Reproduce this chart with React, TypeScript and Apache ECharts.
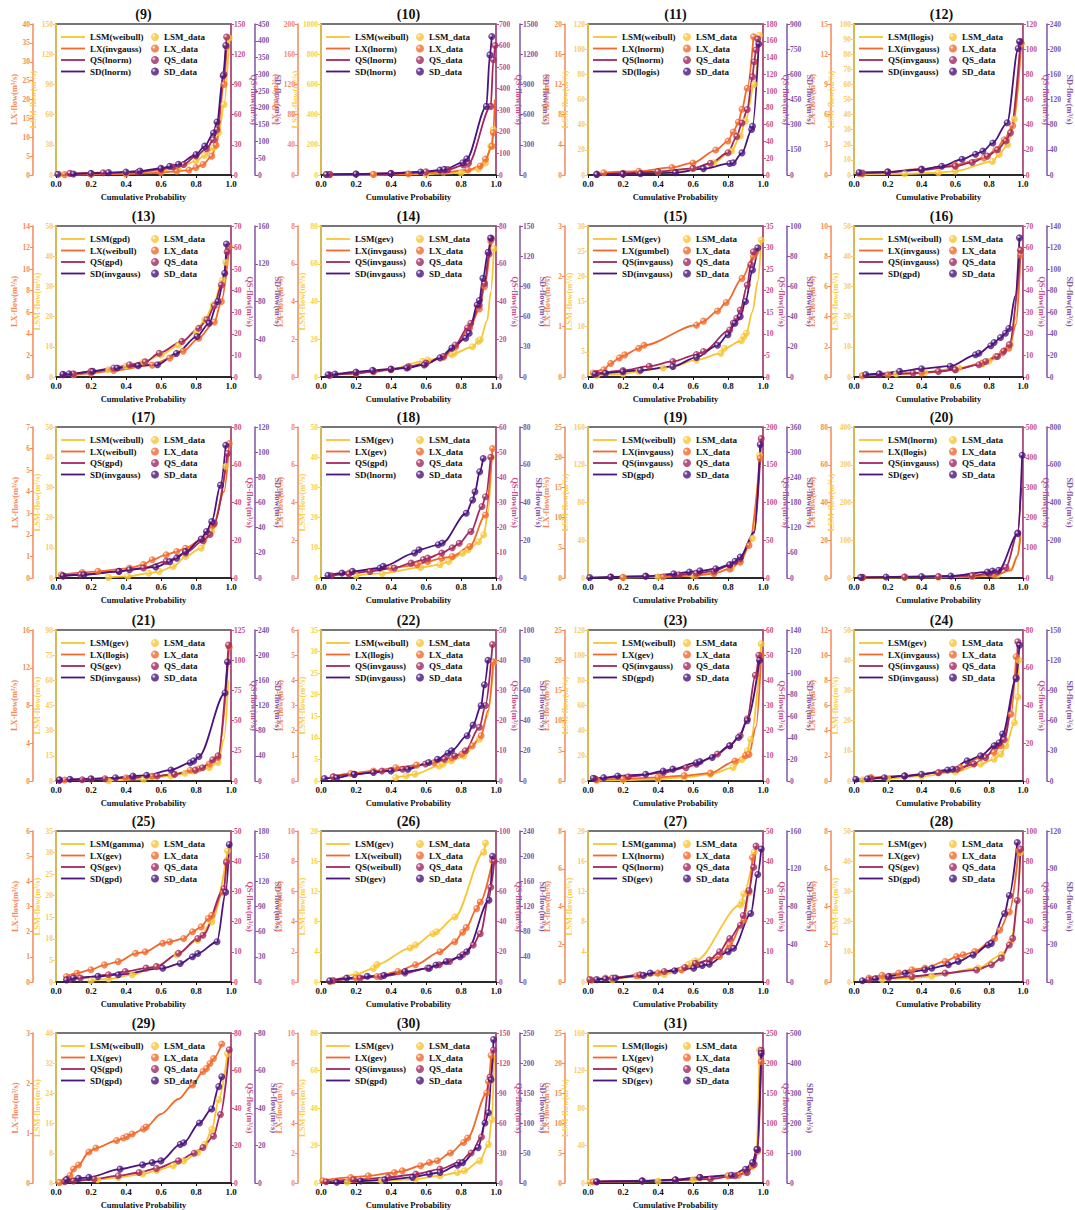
import React, { useEffect, useRef } from "react";
import * as echarts from "echarts";

// ---------------- data ----------------
const PANELS = ["(9)", "(10)", "(11)", "(12)", "(13)", "(14)", "(15)", "(16)", "(17)", "(18)", "(19)", "(20)", "(21)", "(22)", "(23)", "(24)", "(25)", "(26)", "(27)", "(28)", "(29)", "(30)", "(31)"];

// fitted distributions, order: LSM, LX, QS, SD
const FITS = [
  ["weibull", "invgauss", "lnorm", "lnorm"],
  ["weibull", "lnorm", "lnorm", "lnorm"],
  ["weibull", "lnorm", "lnorm", "llogis"],
  ["llogis", "invgauss", "invgauss", "invgauss"],
  ["gpd", "weibull", "gpd", "invgauss"],
  ["gev", "invgauss", "invgauss", "invgauss"],
  ["gev", "gumbel", "invgauss", "invgauss"],
  ["weibull", "invgauss", "invgauss", "gpd"],
  ["weibull", "weibull", "gpd", "invgauss"],
  ["gev", "gev", "gpd", "lnorm"],
  ["weibull", "invgauss", "invgauss", "gpd"],
  ["lnorm", "llogis", "invgauss", "gev"],
  ["gev", "llogis", "gev", "invgauss"],
  ["weibull", "llogis", "invgauss", "invgauss"],
  ["weibull", "gev", "invgauss", "gpd"],
  ["gev", "invgauss", "invgauss", "invgauss"],
  ["gamma", "gev", "gev", "gpd"],
  ["gev", "weibull", "weibull", "gev"],
  ["gamma", "lnorm", "lnorm", "gev"],
  ["gev", "gev", "gev", "gpd"],
  ["weibull", "gev", "gpd", "gpd"],
  ["gev", "gev", "invgauss", "gpd"],
  ["llogis", "gev", "gev", "gev"],
];

// axis [max, interval]
const LX_AXIS = [[40, 5], [200, 40], [20, 4], [15, 3], [14, 2], [8, 2], [3, 1], [10, 2], [7, 1], [8, 2], [25, 5], [80, 20], [16, 4], [6, 1], [25, 5], [12, 2], [6, 1], [10, 2], [8, 2], [8, 2], [3, 1], [10, 2], [25, 5]];
const LSM_AXIS = [[150, 30], [1000, 200], [120, 20], [100, 10], [50, 10], [80, 20], [30, 5], [50, 10], [50, 10], [50, 10], [160, 40], [400, 100], [90, 15], [35, 5], [120, 20], [50, 10], [35, 5], [20, 4], [20, 4], [50, 10], [40, 8], [80, 20], [160, 40]];
const QS_AXIS = [[150, 30], [700, 100], [180, 20], [120, 20], [70, 10], [80, 20], [35, 5], [70, 10], [80, 20], [60, 10], [200, 50], [500, 100], [125, 25], [50, 10], [60, 10], [80, 20], [50, 10], [100, 20], [50, 10], [100, 20], [80, 20], [150, 30], [250, 50]];
const SD_AXIS = [[450, 50], [1500, 300], [900, 150], [240, 40], [160, 40], [150, 30], [100, 20], [140, 20], [120, 20], [80, 20], [360, 60], [800, 200], [240, 40], [100, 20], [140, 20], [150, 30], [180, 30], [240, 40], [160, 40], [120, 30], [80, 20], [250, 50], [500, 100]];

// observed points [cumulative probability, flow]
const LSM_PTS = [
  [[0.02, 0.8], [0.2, 1], [0.4, 2], [0.6, 4], [0.7, 7], [0.8, 14], [0.85, 19.5], [0.9, 27], [0.93, 42], [0.96, 70], [0.99, 136]],
  [[0.03, 3], [0.3, 3], [0.6, 6], [0.8, 15], [0.9, 40], [0.94, 80], [0.97, 191], [0.985, 301]],
  [[0.05, 0.5], [0.2, 1], [0.4, 2.5], [0.6, 5], [0.72, 9.8], [0.82, 19], [0.87, 31], [0.9, 43], [0.95, 72], [0.98, 111]],
  [[0.05, 0.5], [0.3, 0.8], [0.5, 1.5], [0.6, 2.6], [0.82, 9], [0.86, 13.6], [0.91, 20], [0.95, 37], [0.99, 87]],
  [[0.1, 0.8], [0.2, 1.5], [0.3, 2.4], [0.4, 3.6], [0.5, 5], [0.6, 7.3], [0.7, 10.5], [0.8, 15], [0.85, 19], [0.9, 24], [0.95, 32], [0.97, 38]],
  [[0.05, 1], [0.2, 2], [0.4, 4], [0.58, 8.3], [0.61, 9], [0.748, 11.8], [0.764, 12.7], [0.866, 16], [0.9, 19], [0.91, 19.7], [0.988, 68]],
  [[0.05, 0.3], [0.2, 0.6], [0.29, 1.1], [0.43, 1.8], [0.485, 2.1], [0.62, 3.4], [0.76, 4.7], [0.78, 5.7], [0.877, 7.2], [0.89, 8], [0.905, 8.7], [0.99, 27.2]],
  [[0.05, 0.5], [0.25, 1], [0.42, 1.5], [0.62, 3], [0.76, 4.3], [0.8, 5.2], [0.927, 10.7], [0.986, 42]],
  [[0.3, 0.2], [0.41, 0.55], [0.53, 1.6], [0.59, 2.2], [0.67, 3.8], [0.74, 7.1], [0.83, 9.9], [0.89, 15.4], [0.97, 37]],
  [[0.2, 0.8], [0.35, 1.5], [0.57, 3.5], [0.68, 4.4], [0.73, 5.5], [0.81, 8.2], [0.84, 9.3], [0.9, 12], [0.93, 14.3], [0.975, 40]],
  [[0.2, 0.6], [0.4, 1.2], [0.6, 2.8], [0.72, 5.3], [0.82, 10], [0.87, 17], [0.94, 42], [0.98, 130]],
  [[0.05, 1], [0.3, 1.5], [0.5, 2], [0.7, 4], [0.85, 8]],
  [[0.3, 0.2], [0.5, 1], [0.657, 3], [0.737, 4.6], [0.787, 6], [0.876, 8], [0.926, 11]],
  [[0.427, 0.8], [0.487, 1.2], [0.537, 1.6], [0.676, 3.5], [0.696, 3.9], [0.746, 4.7], [0.815, 5.8], [0.905, 9.7], [0.988, 27.6]],
  [[0.05, 0.3], [0.2, 0.8], [0.4, 1.6], [0.55, 3], [0.7, 5.3], [0.83, 10.7], [0.88, 17], [0.91, 24], [0.93, 33], [0.99, 109]],
  [[0.05, 0.4], [0.2, 0.8], [0.4, 1.6], [0.6, 3], [0.75, 5.6], [0.83, 7.2], [0.87, 8.9], [0.9, 11.7], [0.95, 19.4], [0.97, 27.8], [0.976, 40]],
  [[0.2, 0.3], [0.3, 0.7], [0.436, 1.7], [0.574, 3.6], [0.69, 6.3], [0.81, 9.7], [0.89, 13.9], [0.98, 30.4]],
  [[0.06, 0.1], [0.2, 1], [0.3, 1.8], [0.32, 2.3], [0.51, 4.5], [0.54, 4.9], [0.64, 6.4], [0.66, 6.65], [0.765, 8.6], [0.93, 17.2], [0.94, 18.4]],
  [[0.14, 0.3], [0.297, 0.75], [0.436, 1], [0.535, 1.6], [0.574, 2.3], [0.594, 2.5], [0.614, 2.8], [0.871, 10.2], [0.88, 10.6], [0.89, 11.7], [0.95, 17.2]],
  [[0.167, 0.8], [0.343, 1.3], [0.46, 1.9], [0.735, 4.6], [0.873, 9], [0.93, 13.3], [0.986, 42.9]],
  [[0.02, 0.2], [0.238, 0.9], [0.356, 1.5], [0.495, 2.4], [0.574, 3.3], [0.67, 4.6], [0.73, 5.9], [0.81, 8.1], [0.85, 10.3], [0.89, 14.3], [0.93, 22.2], [0.98, 34.5]],
  [[0.15, 0.4], [0.345, 1.2], [0.54, 2.1], [0.68, 3.9], [0.78, 5.6], [0.82, 6.5], [0.907, 11.8], [0.957, 20.6], [0.976, 33.8]],
  [[0.01, 0.7], [0.4, 2], [0.6, 3.5], [0.8, 7.8], [0.9, 13], [0.94, 18], [0.964, 36], [0.98, 142]],
];

const LX_PTS = [
  [[0.05, 0.1], [0.2, 0.15], [0.4, 0.3], [0.6, 0.6], [0.69, 1], [0.76, 1.3], [0.8, 2], [0.84, 2.8], [0.89, 5], [0.915, 7.9], [0.96, 24], [0.975, 34]],
  [[0.05, 0.5], [0.3, 0.8], [0.5, 1.5], [0.7, 3.5], [0.84, 6.6], [0.91, 12], [0.94, 21], [0.977, 38], [0.985, 56]],
  [[0.09, 0.3], [0.29, 0.5], [0.48, 1], [0.6, 1.6], [0.73, 3.3], [0.8, 4.5], [0.83, 5.7], [0.86, 7], [0.88, 8.7], [0.91, 11.5], [0.946, 18.3]],
  [[0.03, 0.15], [0.2, 0.3], [0.4, 0.6], [0.6, 1], [0.77, 1.7], [0.84, 2.5], [0.89, 3.5], [0.94, 4.9], [0.99, 13.1]],
  [[0.1, 0.2], [0.2, 0.35], [0.33, 0.6], [0.55, 1.1], [0.65, 1.75], [0.727, 2.4], [0.816, 3.6], [0.905, 5.1], [0.945, 7], [0.99, 12.1]],
  [[0.05, 0.1], [0.2, 0.2], [0.3, 0.28], [0.4, 0.38], [0.5, 0.5], [0.6, 0.7], [0.7, 1.05], [0.77, 1.6], [0.85, 2.6], [0.905, 3.6], [0.935, 4.8], [0.97, 7.2]],
  [[0.03, 0.08], [0.09, 0.145], [0.13, 0.27], [0.18, 0.38], [0.21, 0.44], [0.29, 0.57], [0.32, 0.63], [0.62, 1.03], [0.66, 1.11], [0.74, 1.31], [0.79, 1.48], [0.88, 1.96], [0.946, 2.39], [0.96, 2.49]],
  [[0.05, 0.08], [0.2, 0.15], [0.4, 0.26], [0.6, 0.48], [0.76, 0.92], [0.84, 1.36], [0.88, 1.6], [0.917, 1.9], [0.986, 8.07]],
  [[0.03, 0.15], [0.15, 0.25], [0.24, 0.31], [0.42, 0.46], [0.5, 0.62], [0.55, 0.85], [0.63, 1.08], [0.69, 1.23], [0.74, 1.38], [0.83, 1.77], [0.9, 2.46], [0.99, 6.23]],
  [[0.16, 0.26], [0.4, 0.53], [0.55, 0.7], [0.61, 0.88], [0.69, 1.05], [0.75, 1.14], [0.85, 1.67], [0.94, 3.34], [0.98, 6.86]],
  [[0.2, 0.1], [0.43, 0.2], [0.62, 0.44], [0.72, 0.72], [0.81, 1.5], [0.87, 2.65], [0.92, 5.4], [0.984, 19.8]],
  [[0.05, 0.3], [0.3, 0.5], [0.5, 0.7], [0.7, 1], [0.83, 1.5]],
  [[0.05, 0.1], [0.2, 0.2], [0.4, 0.35], [0.55, 0.5], [0.677, 0.71], [0.767, 1.14], [0.817, 1.3], [0.876, 1.8], [0.926, 2.5], [0.99, 14.2]],
  [[0.07, 0.17], [0.17, 0.3], [0.3, 0.4], [0.427, 0.53], [0.547, 0.63], [0.646, 0.73], [0.746, 0.93], [0.805, 1.07], [0.865, 1.4], [0.915, 1.8], [0.984, 4.73]],
  [[0.05, 0.2], [0.2, 0.35], [0.4, 0.6], [0.55, 0.9], [0.7, 1.3], [0.84, 3.3], [0.9, 4.2], [0.92, 4.4], [0.99, 20.8]],
  [[0.1, 0.27], [0.3, 0.4], [0.5, 0.67], [0.63, 1.07], [0.75, 1.87], [0.83, 2.27], [0.87, 2.8], [0.93, 5.3], [0.96, 9.87]],
  [[0.06, 0.22], [0.12, 0.35], [0.2, 0.49], [0.277, 0.68], [0.356, 0.81], [0.455, 1.14], [0.51, 1.2], [0.61, 1.54], [0.65, 1.6], [0.73, 1.73], [0.78, 2], [0.83, 2.19], [0.87, 2.52], [0.89, 2.65], [0.954, 3.57], [0.976, 4.82]],
  [[0.05, 0.04], [0.2, 0.26], [0.32, 0.37], [0.44, 0.7], [0.54, 1.14], [0.68, 2], [0.765, 2.67], [0.81, 3.3], [0.83, 3.6], [0.89, 4.86], [0.91, 5.3], [0.98, 8.03]],
  [[0.02, 0.1], [0.1, 0.21], [0.277, 0.33], [0.4, 0.47], [0.535, 0.65], [0.614, 0.91], [0.693, 1.17], [0.752, 1.35], [0.81, 1.96], [0.89, 3.27], [0.92, 4.76], [0.94, 6.6]],
  [[0.088, 0.21], [0.167, 0.35], [0.265, 0.47], [0.343, 0.65], [0.42, 0.74], [0.54, 1.09], [0.608, 1.35], [0.647, 1.44], [0.716, 1.61], [0.833, 2.31], [0.863, 2.75], [0.92, 3.71], [0.975, 6.95]],
  [[0.02, 0.01], [0.08, 0.15], [0.1, 0.28], [0.129, 0.36], [0.188, 0.62], [0.228, 0.7], [0.347, 0.85], [0.386, 0.9], [0.406, 0.93], [0.436, 0.98], [0.5, 1.08], [0.515, 1.12], [0.78, 1.96], [0.84, 2.23], [0.86, 2.29], [0.88, 2.39], [0.9, 2.49], [0.947, 2.78]],
  [[0.01, 0.15], [0.17, 0.37], [0.27, 0.48], [0.42, 0.7], [0.465, 0.81], [0.57, 1.15], [0.62, 1.37], [0.665, 1.48], [0.74, 2], [0.815, 2.7], [0.838, 3], [0.947, 6], [0.957, 6.76], [0.972, 8.5]],
  [[0.03, 0.2], [0.31, 0.4], [0.5, 0.55], [0.64, 0.9], [0.8, 1.2], [0.86, 1.3], [0.9, 1.8], [0.94, 2.9], [0.97, 5.3], [0.99, 20.2]],
];

const QS_PTS = [
  [[0.08, 1.6], [0.27, 2.3], [0.47, 3], [0.6, 5.6], [0.67, 8], [0.73, 10.5], [0.8, 19], [0.86, 26], [0.9, 35], [0.92, 45], [0.96, 100], [0.975, 137]],
  [[0.05, 3], [0.2, 5], [0.4, 8], [0.6, 15], [0.725, 25], [0.815, 46], [0.843, 54], [0.97, 318], [0.985, 534], [0.995, 600]],
  [[0.05, 1], [0.2, 2], [0.4, 4], [0.6, 8], [0.7, 14], [0.8, 26.5], [0.85, 46], [0.88, 62], [0.91, 78], [0.94, 117], [0.95, 135], [0.96, 149], [0.97, 162]],
  [[0.05, 1.5], [0.2, 2], [0.4, 4], [0.6, 7], [0.7, 10], [0.79, 15], [0.85, 20], [0.9, 27], [0.927, 33.5], [0.986, 106]],
  [[0.04, 1], [0.1, 1.5], [0.2, 2.6], [0.33, 4.2], [0.42, 5.7], [0.51, 7], [0.59, 11], [0.72, 16.5], [0.816, 22.6], [0.862, 26.5], [0.905, 33], [0.945, 42.6], [0.978, 58]],
  [[0.05, 1], [0.2, 2], [0.3, 3], [0.4, 4], [0.5, 5.5], [0.6, 7.4], [0.7, 11], [0.768, 17], [0.837, 26], [0.856, 28.5], [0.905, 38], [0.935, 49.6], [0.96, 65], [0.974, 73.3]],
  [[0.05, 0.8], [0.2, 1.5], [0.35, 2.5], [0.485, 3.6], [0.62, 5.2], [0.66, 5.9], [0.81, 10.9], [0.83, 12.5], [0.85, 13.6], [0.87, 15.5], [0.91, 21.3], [0.93, 26], [0.945, 29]],
  [[0.15, 1.1], [0.35, 1.8], [0.5, 2.6], [0.6, 3.4], [0.74, 5.7], [0.78, 7.2], [0.85, 9.5], [0.887, 12], [0.92, 15], [0.986, 58.8]],
  [[0.04, 1], [0.14, 1.8], [0.36, 3.5], [0.5, 5.3], [0.63, 8.8], [0.74, 13.2], [0.84, 19.7], [0.88, 23], [0.905, 29], [0.98, 66]],
  [[0.06, 0.9], [0.16, 1.6], [0.28, 2.6], [0.42, 4], [0.515, 5.9], [0.585, 7.3], [0.61, 7.9], [0.69, 9.9], [0.75, 12], [0.79, 13.8], [0.857, 18.5], [0.92, 28.4], [0.94, 32.3], [0.97, 48]],
  [[0.13, 1.3], [0.33, 2.6], [0.52, 4.4], [0.62, 6.6], [0.72, 9], [0.81, 16.8], [0.87, 25.6], [0.99, 184.6]],
  [[0.05, 2], [0.3, 3], [0.5, 5], [0.7, 8], [0.8, 15], [0.85, 20], [0.9, 35], [0.97, 150]],
  [[0.02, 0.5], [0.15, 1], [0.28, 1.9], [0.44, 2.8], [0.578, 4.2], [0.677, 5.6], [0.797, 9], [0.837, 11], [0.896, 17.5], [0.926, 20.8], [0.986, 112.5]],
  [[0.07, 1.4], [0.19, 2.2], [0.348, 3.3], [0.467, 3.9], [0.597, 5.6], [0.706, 7.2], [0.765, 8.3], [0.825, 10], [0.905, 17.8], [0.94, 25], [0.98, 45.2]],
  [[0.04, 0.9], [0.23, 1.7], [0.43, 3.3], [0.56, 5.3], [0.62, 6.7], [0.74, 10.7], [0.81, 14], [0.87, 18], [0.91, 24.7], [0.956, 42], [0.976, 50]],
  [[0.1, 1.2], [0.3, 2.7], [0.5, 4.4], [0.61, 6.2], [0.71, 9], [0.78, 12.4], [0.84, 18.7], [0.89, 22], [0.96, 55], [0.97, 73.8]],
  [[0.08, 0.8], [0.14, 1.3], [0.3, 2.4], [0.396, 3.5], [0.515, 4.6], [0.574, 5.1], [0.7, 9.5], [0.81, 14.4], [0.84, 15.5], [0.96, 30.9], [0.974, 39.6]],
  [[0.07, 0.9], [0.225, 2.6], [0.343, 3.7], [0.48, 5.9], [0.61, 9.2], [0.676, 11.4], [0.735, 13.6], [0.81, 18], [0.87, 24.5], [0.91, 32], [0.97, 62.8], [0.99, 80]],
  [[0.01, 0.8], [0.14, 1.3], [0.297, 2.4], [0.436, 3.5], [0.554, 4.8], [0.614, 6.2], [0.693, 7.3], [0.752, 10], [0.81, 14.4], [0.871, 18.8], [0.887, 22], [0.92, 30.3], [0.947, 38], [0.96, 45]],
  [[0.088, 1.5], [0.206, 2.6], [0.343, 3.7], [0.54, 5.9], [0.726, 8], [0.814, 11.4], [0.873, 15.8], [0.92, 24.5], [0.94, 28.9], [0.967, 54], [0.986, 88]],
  [[0.05, 0.7], [0.1, 1.1], [0.218, 2.1], [0.356, 3.9], [0.475, 5.6], [0.574, 7.8], [0.7, 11.8], [0.79, 15.9], [0.84, 18.9], [0.9, 25], [0.94, 36.5], [0.99, 71]],
  [[0.03, 1.3], [0.187, 3.3], [0.385, 5.6], [0.542, 8.9], [0.68, 13.9], [0.79, 20.5], [0.858, 30], [0.917, 46], [0.966, 106], [0.986, 133]],
  [[0.05, 2.2], [0.31, 3.3], [0.5, 5], [0.7, 6.6], [0.84, 12], [0.91, 17.6], [0.95, 31], [0.97, 56], [0.99, 221]],
];

const SD_PTS = [
  [[0.01, 2], [0.1, 3], [0.2, 5], [0.3, 7], [0.4, 9], [0.48, 12], [0.6, 20], [0.65, 26], [0.7, 32], [0.8, 61], [0.85, 86], [0.9, 125], [0.92, 158], [0.955, 296], [0.97, 386]],
  [[0.03, 5], [0.2, 10], [0.4, 15], [0.57, 30], [0.68, 49], [0.705, 56], [0.81, 122], [0.833, 161], [0.945, 682], [0.965, 1193], [0.976, 1375]],
  [[0.05, 3], [0.2, 5], [0.3, 8], [0.5, 14], [0.66, 38], [0.81, 69], [0.83, 73], [0.88, 132], [0.935, 271], [0.94, 291], [0.976, 781]],
  [[0.03, 4], [0.2, 5], [0.4, 9], [0.52, 14], [0.64, 25], [0.72, 33], [0.763, 38], [0.822, 51], [0.907, 83], [0.972, 201], [0.98, 212]],
  [[0.04, 3], [0.075, 3.5], [0.21, 6], [0.35, 9.5], [0.47, 12], [0.58, 13], [0.688, 25], [0.806, 43], [0.875, 57], [0.925, 80], [0.964, 110], [0.974, 141]],
  [[0.04, 2.3], [0.08, 3], [0.2, 5], [0.295, 6.6], [0.4, 8], [0.49, 9], [0.59, 12], [0.68, 19], [0.748, 28.7], [0.827, 38.6], [0.847, 43.5], [0.892, 71.5], [0.905, 76], [0.925, 98], [0.955, 124], [0.969, 138]],
  [[0.04, 2], [0.1, 2.5], [0.2, 3.5], [0.3, 4.5], [0.485, 7], [0.62, 13], [0.74, 21], [0.8, 28], [0.84, 35.6], [0.87, 40], [0.9, 50], [0.94, 70.8], [0.97, 85.5]],
  [[0.07, 2.2], [0.15, 3], [0.27, 5.2], [0.4, 7.7], [0.57, 10], [0.72, 20.6], [0.74, 22], [0.81, 29], [0.83, 32], [0.868, 36.6], [0.897, 40.6], [0.917, 45], [0.98, 129]],
  [[0.04, 1.8], [0.16, 2.6], [0.36, 5.3], [0.42, 6.6], [0.57, 8.7], [0.65, 13], [0.69, 15.8], [0.74, 21], [0.83, 31], [0.86, 37], [0.89, 44.8], [0.94, 73.8], [0.97, 105.5]],
  [[0.04, 1.4], [0.12, 2.6], [0.18, 3.5], [0.337, 5.3], [0.356, 6.2], [0.535, 13.2], [0.56, 15], [0.67, 17.6], [0.693, 18.5], [0.83, 34.3], [0.867, 41.3], [0.88, 45.7], [0.907, 56.3], [0.927, 63.3]],
  [[0.01, 1], [0.13, 2.4], [0.33, 4], [0.49, 10], [0.58, 14.3], [0.64, 17], [0.73, 22], [0.81, 32], [0.84, 40], [0.87, 50], [0.984, 318]],
  [[0.04, 3.5], [0.19, 5], [0.4, 8], [0.574, 10.6], [0.79, 32], [0.82, 37], [0.857, 41], [0.97, 235], [0.996, 650]],
  [[0.02, 2], [0.08, 2.7], [0.2, 3.7], [0.34, 5.3], [0.44, 8], [0.518, 9], [0.657, 17.6], [0.767, 29], [0.787, 32], [0.817, 39], [0.966, 140], [0.98, 189]],
  [[0.02, 1.6], [0.09, 2.2], [0.19, 4.4], [0.3, 5.6], [0.4, 6.7], [0.497, 7.8], [0.616, 12.2], [0.666, 14.4], [0.726, 18.4], [0.746, 20], [0.835, 30], [0.869, 37], [0.915, 50], [0.934, 63.8], [0.954, 80]],
  [[0.03, 2.5], [0.09, 3.1], [0.17, 4.7], [0.33, 6.2], [0.43, 9.3], [0.485, 11], [0.62, 17], [0.64, 18], [0.71, 21.8], [0.81, 32.7], [0.86, 40.4], [0.91, 56], [0.98, 112]],
  [[0.01, 1.7], [0.08, 2.3], [0.18, 3.3], [0.3, 5], [0.4, 6.7], [0.555, 11], [0.585, 11.7], [0.67, 20], [0.75, 25], [0.83, 35], [0.86, 38], [0.88, 46.7], [0.96, 101.7], [0.98, 135]],
  [[0.06, 2.5], [0.1, 4.7], [0.24, 6.7], [0.356, 8.7], [0.61, 16.5], [0.71, 22], [0.78, 30], [0.81, 34], [0.92, 48], [0.97, 107], [0.99, 164]],
  [[0.05, 2], [0.147, 6.3], [0.265, 9], [0.36, 10.5], [0.48, 16.8], [0.62, 22], [0.657, 27], [0.716, 32.6], [0.794, 40], [0.833, 48], [0.96, 130], [0.98, 200]],
  [[0.05, 2.5], [0.1, 3.2], [0.158, 4.2], [0.317, 7], [0.356, 9.5], [0.495, 11.9], [0.604, 14.7], [0.653, 17.5], [0.693, 18.9], [0.802, 32.2], [0.832, 35.7], [0.93, 72.5], [0.97, 114], [0.99, 141]],
  [[0.05, 1], [0.127, 2.6], [0.206, 4.5], [0.304, 7.1], [0.42, 9.7], [0.461, 11], [0.559, 13.7], [0.618, 16.3], [0.706, 21.5], [0.794, 29.4], [0.814, 30.7], [0.892, 54.4], [0.92, 68.8], [0.967, 110.8]],
  [[0.06, 1.8], [0.129, 2.5], [0.188, 3], [0.366, 7.4], [0.495, 9.7], [0.55, 10.9], [0.6, 11.8], [0.71, 20.6], [0.73, 21.5], [0.82, 32], [0.89, 39.5], [0.93, 51.4], [0.947, 56.7]],
  [[0.09, 1.1], [0.227, 3.3], [0.365, 5.5], [0.523, 9.4], [0.62, 14.9], [0.68, 17.6], [0.78, 29.7], [0.81, 34], [0.898, 59], [0.937, 100], [0.957, 117], [0.972, 172], [0.986, 239]],
  [[0.05, 4.4], [0.31, 6.6], [0.5, 11], [0.64, 19], [0.82, 26], [0.9, 46], [0.94, 68], [0.965, 112], [0.99, 432]],
];

// extra points read off the fitted curves only (no observed marker there)
const LSM_TAIL: Record<number, number[][]> = { 5: [[0.95, 30], [0.97, 45]], 6: [[0.94, 13], [0.97, 19]], 7: [[0.96, 20]], 9: [[0.955, 22]], 11: [[0.93, 25], [0.97, 60], [0.985, 120]], 12: [[0.96, 25], [0.985, 60]], 13: [[0.95, 15]], 19: [[0.96, 22]], 21: [[0.99, 68]] };
const LX_TAIL: Record<number, number[][]> = { 1: [[0.993, 100]], 7: [[0.96, 3.5]], 8: [[0.96, 4]], 11: [[0.93, 4], [0.97, 12], [0.985, 22]], 13: [[0.955, 2.8]], 14: [[0.96, 9]], 20: [[0.6, 1.38], [0.7, 1.68]] };
const QS_TAIL: Record<number, number[][]> = { 10: [[0.95, 60]], 11: [[0.99, 300]] };
const SD_TAIL: Record<number, number[][]> = { 7: [[0.955, 75]], 10: [[0.95, 110]] };

// ---------------- styling / layout ----------------
const FONT = "'Liberation Serif', 'Times New Roman', serif";
const COL_L = [56, 321, 588, 854];
const ROW_T = [24, 226, 427, 630, 831, 1033];
const PW = 175;
const PH = 151;

// axis order per panel: 0 LX, 1 LSM, 2 QS, 3 SD
const AX_COLOR = ["#F5895A", "#F9CF4A", "#C64F8A", "#7F54A9"];
const AX_NAME = ["LX-flow(m³/s)", "LSM-flow(m³/s)", "QS-flow(m³/s)", "SD-flow(m³/s)"];
const AX_POS = ["left", "left", "right", "right"];
const AX_OFF = [23, 0, 0, 24];
const AX_GAP = [14, 11, 10, 14];

// series order: LSM, LX, QS, SD
const SER_NAMES = ["LSM", "LX", "QS", "SD"];
const SER_AXIS = [1, 0, 2, 3];
const SER_COLOR = ["#F8C532", "#F2692B", "#A2285F", "#4A137E"];
const PTS = [LSM_PTS, LX_PTS, QS_PTS, SD_PTS];
const TAILS = [LSM_TAIL, LX_TAIL, QS_TAIL, SD_TAIL];

const LINE_ICON = "path://M0,0 M0,4.1 L24,4.1 L24,5.9 L0,5.9 Z M24,10";

function ball(c: string) {
  return {
    type: "radial", x: 0.35, y: 0.35, r: 0.7,
    colorStops: [
      { offset: 0, color: "#ffffff" },
      { offset: 0.35, color: c },
      { offset: 1, color: c },
    ],
  };
}

function buildOption() {
  const grid: any[] = [];
  const xAxis: any[] = [];
  const yAxis: any[] = [];
  const series: any[] = [];
  const legend: any[] = [];
  const title: any[] = [];
  const txt = { fontFamily: FONT, fontWeight: "bold" };

  PANELS.forEach((label, i) => {
    const L = COL_L[i % 4];
    const T = ROW_T[Math.floor(i / 4)];
    grid.push({ left: L, top: T, width: PW, height: PH, show: true, borderColor: "#4a4a4a", borderWidth: 1.5, backgroundColor: "transparent" });
    title.push({ text: label, left: L + PW / 2, top: T - 17, textAlign: "center", padding: 0, textStyle: { ...txt, fontSize: 14, color: "#111" } });
    xAxis.push({
      type: "value", gridIndex: i, min: 0, max: 1, interval: 0.2,
      name: "Cumulative Probability", nameLocation: "middle", nameGap: 17,
      nameTextStyle: { ...txt, fontSize: 8.5, color: "#111" },
      axisLine: { onZero: false, lineStyle: { color: "#111", width: 1.5 } },
      axisTick: { length: 3, lineStyle: { color: "#111" } },
      axisLabel: { ...txt, fontSize: 9, color: "#111", margin: 4, formatter: (v: number) => v.toFixed(1) },
      splitLine: { show: false },
    });
    const axes = [LX_AXIS[i], LSM_AXIS[i], QS_AXIS[i], SD_AXIS[i]];
    axes.forEach(([max, step], k) => {
      yAxis.push({
        type: "value", gridIndex: i, position: AX_POS[k], offset: AX_OFF[k],
        min: 0, max, interval: step,
        name: AX_NAME[k], nameLocation: "middle", nameGap: AX_GAP[k], nameRotate: k >= 2 ? -90 : 90,
        nameTextStyle: { ...txt, fontSize: 8.5, color: AX_COLOR[k] },
        axisLine: { show: true, onZero: false, lineStyle: { color: AX_COLOR[k], width: 1.5 } },
        axisTick: { show: true, length: 3, lineStyle: { color: AX_COLOR[k], width: 1 } },
        axisLabel: { ...txt, fontSize: 7.5, color: AX_COLOR[k], margin: 3, formatter: (v: number) => String(v) },
        splitLine: { show: false },
      });
    });
    SER_NAMES.forEach((nm, j) => {
      const pts = PTS[j][i];
      const line = [...pts, ...(TAILS[j][i] || [])].sort((a, b) => a[0] - b[0]);
      series.push({
        type: "line", name: `${nm}(${FITS[i][j]})`, xAxisIndex: i, yAxisIndex: i * 4 + SER_AXIS[j],
        data: line, smooth: 0.3, smoothMonotone: "x", symbol: "none", showSymbol: false, silent: true,
        lineStyle: { color: SER_COLOR[j], width: 1.8 }, itemStyle: { color: SER_COLOR[j] }, z: 2 + j,
      });
    });
    SER_NAMES.forEach((nm, j) => {
      series.push({
        type: "scatter", name: `${nm}_data`, xAxisIndex: i, yAxisIndex: i * 4 + SER_AXIS[j],
        data: PTS[j][i], symbol: "circle", symbolSize: 7, silent: true,
        itemStyle: { color: ball(SER_COLOR[j]) }, z: 6 + j,
      });
    });
    const legText = { ...txt, fontSize: 9, color: "#111", lineHeight: 10 };
    legend.push({
      left: L + 5, top: T + 8, orient: "vertical", itemWidth: 24, itemHeight: 10, itemGap: 1.5,
      selectedMode: false, padding: 0, textStyle: legText,
      data: SER_NAMES.map((nm, j) => ({ name: `${nm}(${FITS[i][j]})`, icon: LINE_ICON, itemStyle: { color: SER_COLOR[j] } })),
    });
    legend.push({
      left: L + 95, top: T + 8, orient: "vertical", itemWidth: 8, itemHeight: 10, itemGap: 1.5,
      selectedMode: false, padding: 0, textStyle: legText, icon: "circle",
      data: SER_NAMES.map((nm) => `${nm}_data`),
    });
  });

  return { animation: false, backgroundColor: "#ffffff", title, grid, xAxis, yAxis, legend, series };
}

export default function App() {
  const ref = useRef<HTMLDivElement>(null);
  useEffect(() => {
    if (!ref.current) return;
    const chart = echarts.init(ref.current, undefined, { renderer: "svg" });
    chart.setOption(buildOption() as any);
    return () => chart.dispose();
  }, []);
  return (
    <div
      ref={ref}
      style={{ position: "absolute", left: 0, top: 0, width: 1075, height: 1210, background: "#fff" }}
    />
  );
}
